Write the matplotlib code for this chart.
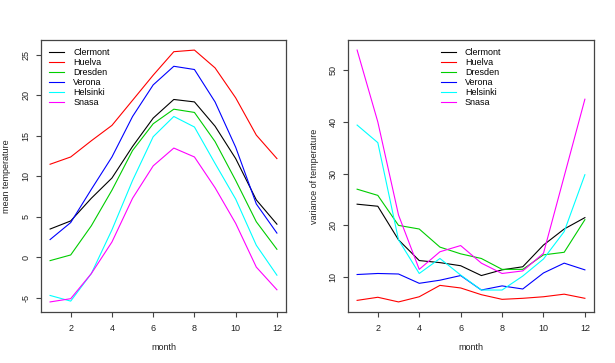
import matplotlib
matplotlib.use("Agg")
import matplotlib.pyplot as plt
import numpy as np

months = list(range(1, 13))
cities = ["Clermont", "Huelva", "Dresden", "Verona", "Helsinki", "Snasa"]
colors = ["#000000", "#FF0000", "#00CD00", "#0000FF", "#00FFFF", "#FF00FF"]

mean_clermont = [3.5, 4.5, 7.3, 9.8, 13.7, 17.2, 19.5, 19.2, 16.2, 12.2, 7.1, 4.1]
mean_huelva = [11.5, 12.4, 14.4, 16.3, 19.4, 22.5, 25.4, 25.6, 23.4, 19.7, 15.1, 12.2]
mean_dresden = [-0.4, 0.3, 3.9, 8.3, 13.2, 16.5, 18.3, 17.9, 14.3, 9.5, 4.4, 1.0]
mean_verona = [2.2, 4.3, 8.4, 12.4, 17.4, 21.3, 23.6, 23.2, 19.2, 13.6, 6.6, 3.0]
mean_helsinki = [-4.7, -5.4, -2.0, 3.4, 9.5, 14.9, 17.4, 16.1, 11.6, 7.2, 1.5, -2.2]
mean_snasa = [-5.5, -5.1, -2.0, 1.9, 7.3, 11.3, 13.5, 12.4, 8.6, 4.2, -1.2, -4.0]

var_clermont = [24.1, 23.7, 17.2, 13.2, 12.8, 12.2, 10.3, 11.4, 12.0, 16.2, 19.3, 21.5]
var_huelva = [5.5, 6.1, 5.2, 6.2, 8.4, 7.9, 6.6, 5.7, 5.9, 6.2, 6.7, 5.9]
var_dresden = [27.0, 25.8, 20.0, 19.3, 15.8, 14.5, 13.6, 11.5, 11.5, 14.3, 14.8, 21.1]
var_verona = [10.5, 10.7, 10.6, 8.8, 9.4, 10.3, 7.5, 8.3, 7.7, 10.8, 12.7, 11.4]
var_helsinki = [39.4, 36.0, 17.2, 10.7, 13.6, 10.4, 7.5, 7.5, 10.2, 13.5, 18.8, 29.8]
var_snasa = [53.9, 40.0, 22.0, 11.5, 14.9, 16.1, 12.7, 10.7, 11.2, 14.6, 29.5, 44.4]

means = [mean_clermont, mean_huelva, mean_dresden, mean_verona, mean_helsinki, mean_snasa]
variances = [var_clermont, var_huelva, var_dresden, var_verona, var_helsinki, var_snasa]

plt.rcParams['font.family'] = ['Liberation Sans', 'DejaVu Sans']
fs = 6.5
txtc = '#222222'

fig = plt.figure(figsize=(6.15, 3.63), dpi=100)
ax1 = fig.add_axes([41/615, 1-312/363, (286-41)/615, (312-40)/363])
ax2 = fig.add_axes([348/615, 1-312/363, (594-348)/615, (312-40)/363])

def style(ax, data, yticks, ylabel, ylab_x, legend_loc, legend_anchor):
    for name, col, vals in zip(cities, colors, data):
        ax.plot(months, vals, color=col, lw=0.8, label=name)
    allv = np.concatenate([np.asarray(v) for v in data])
    lo, hi = allv.min(), allv.max()
    pad = 0.04 * (hi - lo)
    ax.set_ylim(lo - pad, hi + pad)
    ax.set_xlim(1 - 0.04 * 11, 12 + 0.04 * 11)
    ax.set_xticks([2, 4, 6, 8, 10, 12])
    ax.set_yticks(yticks)
    ax.set_yticklabels([str(t) for t in yticks], rotation=90, va='center')
    for s in ax.spines.values():
        s.set_color('#444444')
        s.set_linewidth(0.9)
    ax.tick_params(direction='out', length=3.6, width=0.8, color='#444444',
                   labelsize=fs, labelcolor=txtc)
    ax.tick_params(axis='x', pad=5)
    ax.tick_params(axis='y', pad=4)
    ax.set_xlabel('month', fontsize=fs, color=txtc, va='center')
    ax.xaxis.set_label_coords(0.5, -35/272)
    ax.set_ylabel(ylabel, fontsize=fs, color=txtc, va='center')
    ax.yaxis.set_label_coords(ylab_x, 0.5)
    ax.legend(loc=legend_loc, bbox_to_anchor=legend_anchor, frameon=False,
              fontsize=fs, handlelength=1.7, handletextpad=1.0,
              labelspacing=0.12, borderaxespad=0.45)

style(ax1, means, [-5, 0, 5, 10, 15, 20, 25], 'mean temperature', -34/245, 'upper left', None)
style(ax2, variances, [10, 20, 30, 40, 50], 'variance of temperature', -33/246, 'upper center', (0.5, 1.0))

fig.savefig('out.png', dpi=100)
